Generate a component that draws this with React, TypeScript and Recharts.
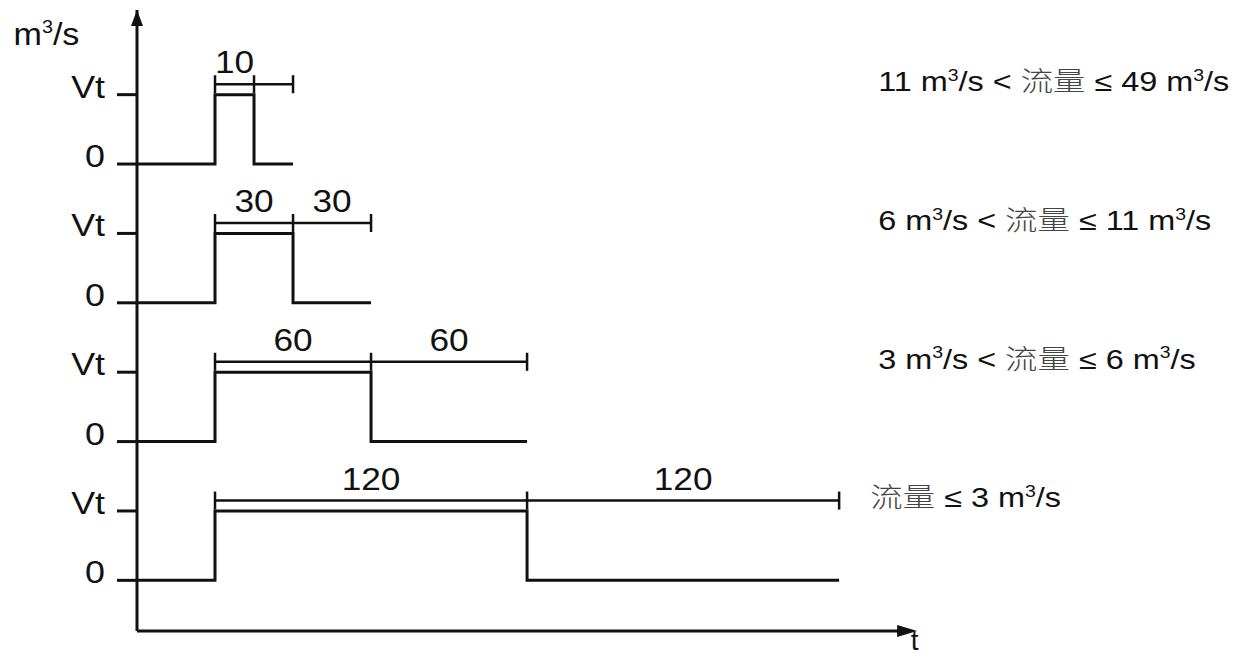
import React from 'react'
import { LineChart, Line, XAxis, YAxis, ReferenceLine, ReferenceDot } from 'recharts'

// time at which each pulse switches on / off and where the trace stops
const PULSE_ON = [30, 30, 30, 30]
const PULSE_OFF = [45, 60, 90, 150]
const TRACE_END = [60, 90, 150, 270]

// vertical position of each row's "0" level; Vt sits one unit above
const ROW_BASE = [6.73, 4.73, 2.73, 0.73]
const VT = 1

const DIM_LABELS = [['10'], ['30', '30'], ['60', '60'], ['120', '120']]
const RANGE_LOW = ['11', '6', '3', null]
const RANGE_HIGH = ['49', '11', '6', '3']
const RANGE_X = [285, 285, 285, 282]

const X_MAX = 423
const Y_MAX = 8.95
const AXIS_END = 300
const DIM_GAP = 0.15
const TICK_HALF = 0.13

const FONT = "'Liberation Sans', Arial, sans-serif"
const CJK = "'Noto Sans CJK SC', sans-serif"
const INK = '#111'

const Y_TICKS = ROW_BASE.flatMap(b => [b, b + VT])

const traces = ROW_BASE.map((b, i) => [
  { t: 0, v: b },
  { t: PULSE_ON[i], v: b },
  { t: PULSE_ON[i], v: b + VT },
  { t: PULSE_OFF[i], v: b + VT },
  { t: PULSE_OFF[i], v: b },
  { t: TRACE_END[i], v: b },
])

const dims = ROW_BASE.map((b, i) => [
  { t: PULSE_ON[i], v: b + VT + DIM_GAP },
  { t: TRACE_END[i], v: b + VT + DIM_GAP },
])

const YTick = (props: any) => {
  const { x, y, payload } = props
  const isZero = ROW_BASE.some(b => Math.abs(b - payload.value) < 1e-6)
  return (
    <g transform={`translate(${x},${y + 3}) scale(1.12,1)`}>
      <text textAnchor="end" fontSize={32} fontFamily={FONT} fill={INK}>
        {isZero ? '0' : 'Vt'}
      </text>
    </g>
  )
}

const Unit = ({ size }: { size: number }) => (
  <>
    <tspan> m</tspan>
    <tspan fontSize={size * 0.6} dy={-size * 0.38}>3</tspan>
    <tspan dy={size * 0.38}>/s</tspan>
  </>
)

const rangeLabel = (i: number) => (p: any) => {
  const size = 27
  return (
    <g transform={`translate(${p.cx},${p.cy}) scale(1.2,1)`}>
      <text fontSize={size} fontFamily={FONT} fill={INK}>
        {RANGE_LOW[i] !== null && (
          <>
            <tspan>{RANGE_LOW[i]}</tspan>
            <Unit size={size} />
            <tspan>{' < '}</tspan>
          </>
        )}
        <tspan fontFamily={CJK} fontSize={27} fontWeight={300} fill="#444">流量</tspan>
        <tspan>{' ≤ ' + RANGE_HIGH[i]}</tspan>
        <Unit size={size} />
      </text>
    </g>
  )
}

const dimLabel = (text: string) => (p: any) => (
  <g transform={`translate(${p.cx},${p.cy - 11}) scale(1.1,1)`}>
    <text textAnchor="middle" fontSize={32} fontFamily={FONT} fill={INK}>{text}</text>
  </g>
)

const arrowUp = (p: any) => (
  <polygon points={`${p.cx},${p.cy} ${p.cx - 6},${p.cy + 16} ${p.cx + 6},${p.cy + 16}`} fill={INK} />
)
const arrowRight = (p: any) => (
  <polygon points={`${p.cx},${p.cy} ${p.cx - 20},${p.cy - 6} ${p.cx - 20},${p.cy + 6}`} fill={INK} />
)

export default function App() {
  return (
    <div style={{ position: 'absolute', left: 0, top: 0, background: '#fff' }}>
      <LineChart width={1244} height={660} margin={{ top: 10, right: 7, bottom: 29, left: 0 }}>
        <XAxis type="number" dataKey="t" domain={[0, X_MAX]} hide allowDataOverflow />
        <YAxis
          type="number"
          domain={[0, Y_MAX]}
          ticks={Y_TICKS}
          interval={0}
          width={137}
          tickSize={20}
          tickMargin={12}
          tick={<YTick />}
          axisLine={{ stroke: INK, strokeWidth: 3 }}
          tickLine={{ stroke: INK, strokeWidth: 3 }}
          allowDataOverflow
        />

        <ReferenceLine segment={[{ x: 0, y: 0 }, { x: AXIS_END - 4, y: 0 }]} stroke={INK} strokeWidth={3} />
        <ReferenceDot x={AXIS_END} y={0} r={0} shape={arrowRight} ifOverflow="visible" />
        <ReferenceDot x={0} y={Y_MAX} r={0} shape={arrowUp} ifOverflow="visible" />

        {traces.map((d, i) => (
          <Line key={'tr' + i} data={d} dataKey="v" type="linear" stroke={INK} strokeWidth={3}
            dot={false} isAnimationActive={false} strokeLinejoin="miter" />
        ))}
        {dims.map((d, i) => (
          <Line key={'dm' + i} data={d} dataKey="v" type="linear" stroke={INK} strokeWidth={2.5}
            dot={false} isAnimationActive={false} />
        ))}

        {ROW_BASE.map((b, i) =>
          [PULSE_ON[i], PULSE_OFF[i], TRACE_END[i]].map((t, j) => (
            <ReferenceLine key={`tk${i}-${j}`} stroke={INK} strokeWidth={2.5}
              segment={[{ x: t, y: b + VT + DIM_GAP - TICK_HALF }, { x: t, y: b + VT + DIM_GAP + TICK_HALF }]} />
          ))
        )}

        {ROW_BASE.map((b, i) =>
          DIM_LABELS[i].map((txt, j) => {
            const edges = [PULSE_ON[i], PULSE_OFF[i], TRACE_END[i]]
            return (
              <ReferenceDot key={`dl${i}-${j}`} x={(edges[j] + edges[j + 1]) / 2} y={b + VT + DIM_GAP}
                r={0} shape={dimLabel(txt)} ifOverflow="visible" />
            )
          })
        )}

        {ROW_BASE.map((b, i) => (
          <ReferenceDot key={'rg' + i} x={RANGE_X[i]} y={b + VT + 0.05} r={0}
            shape={rangeLabel(i)} ifOverflow="visible" />
        ))}

        <ReferenceDot x={-47.5} y={8.45} r={0} ifOverflow="visible"
          shape={(p: any) => (
            <g transform={`translate(${p.cx},${p.cy}) scale(1.1,1)`}>
              <text fontSize={31} fontFamily={FONT} fill={INK}>
                m<tspan fontSize={18} dy={-12}>3</tspan><tspan dy={12}>/s</tspan>
              </text>
            </g>
          )} />
        <ReferenceDot x={299} y={-0.27} r={0} ifOverflow="visible"
          shape={(p: any) => (
            <text x={p.cx} y={p.cy} textAnchor="middle" fontSize={28} fontFamily={FONT} fill={INK}>t</text>
          )} />
      </LineChart>
    </div>
  )
}
